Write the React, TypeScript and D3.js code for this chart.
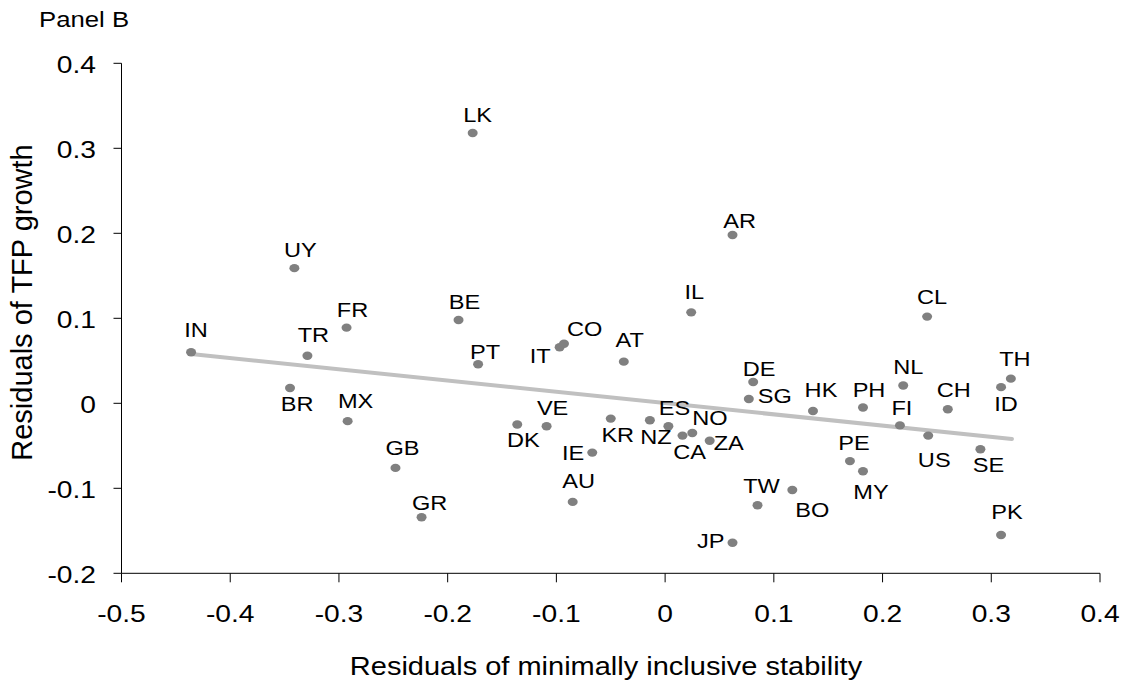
import React from 'react';
import * as d3 from 'd3';

// country codes and their residuals
const countries = ['IN', 'TR', 'UY', 'FR', 'BR', 'MX', 'GB', 'GR', 'PT', 'IT', 'CO', 'AT', 'DE', 'SG', 'DK', 'VE', 'KR', 'NZ', 'ES', 'NO', 'CA', 'ZA', 'IE', 'AU', 'TW', 'JP', 'BO', 'LK', 'AR', 'IL', 'BE', 'CL', 'TH', 'ID', 'NL', 'HK', 'PH', 'CH', 'FI', 'US', 'SE', 'PE', 'MY', 'PK'];
const stabilityResid = [-0.436, -0.329, -0.341, -0.293, -0.345, -0.292, -0.248, -0.224, -0.172, -0.097, -0.093, -0.038, 0.081, 0.077, -0.136, -0.109, -0.05, -0.014, 0.003, 0.025, 0.016, 0.041, -0.067, -0.085, 0.085, 0.062, 0.117, -0.177, 0.062, 0.024, -0.19, 0.241, 0.318, 0.309, 0.219, 0.136, 0.182, 0.26, 0.216, 0.242, 0.29, 0.17, 0.182, 0.309];
const tfpResid = [0.06, 0.056, 0.159, 0.089, 0.018, -0.021, -0.076, -0.134, 0.046, 0.066, 0.07, 0.049, 0.025, 0.005, -0.025, -0.027, -0.018, -0.02, -0.027, -0.035, -0.038, -0.044, -0.058, -0.116, -0.12, -0.164, -0.102, 0.318, 0.198, 0.107, 0.098, 0.102, 0.029, 0.019, 0.021, -0.009, -0.005, -0.007, -0.026, -0.038, -0.054, -0.068, -0.08, -0.155];

// fitted line end points
const trendX = [-0.436, 0.319];
const trendY = [0.058, -0.042];

const xTicks = [-0.5, -0.4, -0.3, -0.2, -0.1, 0, 0.1, 0.2, 0.3, 0.4];
const yTicks = [-0.2, -0.1, 0, 0.1, 0.2, 0.3, 0.4];

// where each label sits relative to its dot: [anchor, dx, dy]
const labelOffsets: Record<string, [string, number, number]> = {
  IN: ['middle', 5, -15], TR: ['middle', 6, -14], UY: ['middle', 6, -11], FR: ['middle', 6, -11],
  BR: ['middle', 7, 23], MX: ['middle', 8, -13], GB: ['middle', 7, -13], GR: ['middle', 8, -7],
  PT: ['middle', 7, -5], IT: ['end', -9, 16], CO: ['start', 3, -8], AT: ['middle', 6, -15],
  DE: ['middle', 6, -6], SG: ['start', 9, 4], DK: ['middle', 6, 22], VE: ['middle', 6, -11],
  KR: ['middle', 7, 23], NZ: ['middle', 6, 24], ES: ['middle', 6, -11], NO: ['start', 0, -8],
  CA: ['middle', 7, 23], ZA: ['start', 4, 9], IE: ['end', -8, 7], AU: ['middle', 6, -14],
  TW: ['middle', 4, -12], JP: ['end', -8, 5], BO: ['middle', 20, 27], LK: ['middle', 5, -11],
  AR: ['middle', 7, -7], IL: ['middle', 3, -13], BE: ['middle', 6, -11], CL: ['middle', 5, -13],
  TH: ['middle', 4, -13], ID: ['middle', 5, 24], NL: ['middle', 5, -11], HK: ['middle', 8, -14],
  PH: ['middle', 6, -11], CH: ['middle', 6, -12], FI: ['middle', 2, -10], US: ['middle', 6, 31],
  SE: ['middle', 8, 23], PE: ['middle', 4, -11], MY: ['middle', 8, 28], PK: ['middle', 6, -16],
};

const FONT = '"Liberation Sans", Arial, sans-serif';

const Txt = ({ x, y, anchor = 'middle', size, sx = 1, children }: any) => (
  <text
    transform={`translate(${x},${y}) scale(${sx},1)`}
    textAnchor={anchor}
    fontSize={size}
    fontFamily={FONT}
    fill="#000"
  >
    {children}
  </text>
);

const App = () => {
  const width = 1126;
  const height = 688;

  const x = d3.scaleLinear().domain([-0.5, 0.4]).range([121.5, 1100]);
  const y = d3.scaleLinear().domain([-0.2, 0.4]).range([573.3, 63.3]);
  // plain hyphen for negatives, like the original
  const fmt = (v: number) => (Math.abs(v) < 1e-9 ? '0' : v.toFixed(1));

  const line = d3.line<number>()
    .x((d) => x(d))
    .y((_, i) => y(trendY[i]));

  return (
    <svg width={width} height={height} style={{ position: 'absolute', left: 0, top: 0, background: '#fff' }}>
      <Txt x={39} y={27} anchor="start" size={22} sx={1.17}>Panel B</Txt>

      {/* axes */}
      <line x1={x(-0.5)} x2={x(-0.5)} y1={y(0.4)} y2={y(-0.2)} stroke="#000" strokeWidth={1} />
      <line x1={x(-0.5)} x2={x(0.4)} y1={y(-0.2)} y2={y(-0.2)} stroke="#000" strokeWidth={1} />
      {yTicks.map((t) => (
        <g key={'y' + t}>
          <line x1={x(-0.5) - 8} x2={x(-0.5)} y1={y(t)} y2={y(t)} stroke="#000" />
          <Txt x={96} y={y(t) + 9.5} anchor="end" size={23.5} sx={1.2}>{fmt(t)}</Txt>
        </g>
      ))}
      {xTicks.map((t) => (
        <g key={'x' + t}>
          <line x1={x(t)} x2={x(t)} y1={y(-0.2)} y2={y(-0.2) + 9} stroke="#000" />
          <Txt x={x(t)} y={621.5} size={23.5} sx={1.2}>{fmt(t)}</Txt>
        </g>
      ))}

      <Txt x={606} y={675} size={25} sx={1.16}>Residuals of minimally inclusive stability</Txt>
      <text
        transform="translate(31.5,302.5) rotate(-90)"
        textAnchor="middle"
        fontSize={29}
        fontFamily={FONT}
      >
        Residuals of TFP growth
      </text>

      {/* fitted line */}
      <path d={line(trendX) || ''} fill="none" stroke="#c0c0c0" strokeWidth={4} strokeLinecap="round" />

      {/* points */}
      {countries.map((c, i) => (
        <ellipse key={c} cx={x(stabilityResid[i])} cy={y(tfpResid[i])} rx={5} ry={4.2} fill="#808080" />
      ))}
      {countries.map((c, i) => {
        const [anchor, dx, dy] = labelOffsets[c];
        return (
          <Txt key={'l' + c} x={x(stabilityResid[i]) + dx} y={y(tfpResid[i]) + dy} anchor={anchor} size={20.5} sx={1.15}>
            {c}
          </Txt>
        );
      })}
    </svg>
  );
};

export default App;
